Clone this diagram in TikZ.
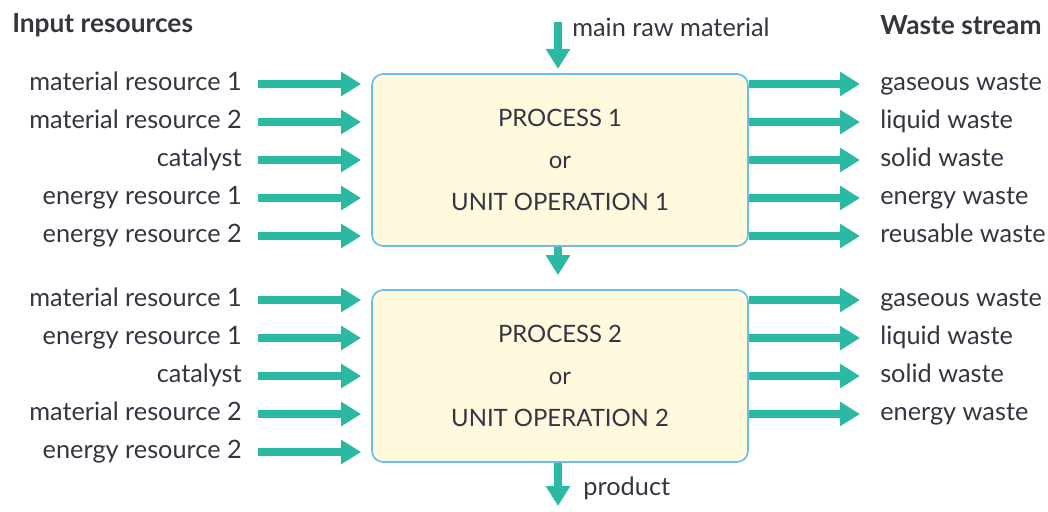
\documentclass[tikz,border=0pt]{standalone}
\usepackage{fontspec}
\setmainfont{Lato}
\usetikzlibrary{arrows.meta, positioning, calc}
\usepackage{xcolor}
\definecolor{flow}{RGB}{44,185,164}
\definecolor{boxfill}{RGB}{255,249,222}
\definecolor{boxline}{RGB}{105,190,235}
\definecolor{ink}{RGB}{52,52,66}

\begin{document}
\begin{tikzpicture}[
    font=\fontsize{18}{21}\selectfont, text=ink,
    unit/.style={rectangle, rounded corners=8pt, minimum width=9.4cm, minimum height=4.3cm, align=center, fill=boxfill, draw=boxline, line width=1.2pt, font=\fontsize{17}{30}\selectfont},
    inlbl/.style={anchor=east, inner xsep=0pt, text height=2.2ex, text depth=.4ex},
    outlbl/.style={anchor=west, inner xsep=0pt, text height=2.2ex, text depth=.4ex},
    head/.style={anchor=west, inner xsep=0pt, font=\fontsize{18.7}{21}\selectfont\bfseries},
    arr/.style={-{Triangle[length=0.5cm, width=0.58cm]}, line width=0.2cm, flow},
]
\useasboundingbox (0,0) rectangle (26.2,-12.775);

% the two process boxes
\node[unit] (p1) at (14.0,-4.0) {PROCESS 1\\or\\UNIT OPERATION 1};
\node[unit] (p2) at (14.0,-9.4) {PROCESS 2\\or\\UNIT OPERATION 2};

% column headings
\node[head] (inhead) at (0.3,-0.62) {Input resources};
\node[head] (outhead) at (22.0,-0.62) {Waste stream};

% raw material in, product out
\coordinate (rawtop) at (13.95,-0.55);
\node[anchor=west, inner xsep=0pt] (raw) at (14.3,-0.68) {main raw material};
\coordinate (prodend) at (13.95,-12.65);
\node[anchor=west, inner xsep=0pt] (prod) at (14.58,-12.22) {product};

% inputs to process 1
\node[inlbl] (a1) at (6.05,-2.1) {material resource 1};
\node[inlbl] (a2) at (6.05,-3.05) {material resource 2};
\node[inlbl] (a3) at (6.05,-4.0) {catalyst};
\node[inlbl] (a4) at (6.05,-4.95) {energy resource 1};
\node[inlbl] (a5) at (6.05,-5.9) {energy resource 2};

% inputs to process 2
\node[inlbl] (b1) at (6.05,-7.5) {material resource 1};
\node[inlbl] (b2) at (6.05,-8.45) {energy resource 1};
\node[inlbl] (b3) at (6.05,-9.4) {catalyst};
\node[inlbl] (b4) at (6.05,-10.35) {material resource 2};
\node[inlbl] (b5) at (6.05,-11.3) {energy resource 2};

% waste from process 1
\node[outlbl] (w1) at (22.0,-2.1) {gaseous waste};
\node[outlbl] (w2) at (22.0,-3.05) {liquid waste};
\node[outlbl] (w3) at (22.0,-4.0) {solid waste};
\node[outlbl] (w4) at (22.0,-4.95) {energy waste};
\node[outlbl] (w5) at (22.0,-5.9) {reusable waste};

% waste from process 2
\node[outlbl] (v1) at (22.0,-7.5) {gaseous waste};
\node[outlbl] (v2) at (22.0,-8.45) {liquid waste};
\node[outlbl] (v3) at (22.0,-9.4) {solid waste};
\node[outlbl] (v4) at (22.0,-10.35) {energy waste};

% Arrows
\draw[arr] (rawtop) -- ([yshift=3pt]rawtop |- p1.north);
\draw[arr] (rawtop |- p1.south) -- ([yshift=3.5mm]rawtop |- p2.north);
\draw[arr] (rawtop |- p2.south) -- (prodend);

\draw[arr] ([xshift=4mm]a1.east) -- ([xshift=-2.5mm]a1 -| p1.west);
\draw[arr] ([xshift=4mm]a2.east) -- ([xshift=-2.5mm]a2 -| p1.west);
\draw[arr] ([xshift=4mm]a3.east) -- ([xshift=-2.5mm]a3 -| p1.west);
\draw[arr] ([xshift=4mm]a4.east) -- ([xshift=-2.5mm]a4 -| p1.west);
\draw[arr] ([xshift=4mm]a5.east) -- ([xshift=-2.5mm]a5 -| p1.west);

\draw[arr] ([xshift=4mm]b1.east) -- ([xshift=-2.5mm]b1 -| p2.west);
\draw[arr] ([xshift=4mm]b2.east) -- ([xshift=-2.5mm]b2 -| p2.west);
\draw[arr] ([xshift=4mm]b3.east) -- ([xshift=-2.5mm]b3 -| p2.west);
\draw[arr] ([xshift=4mm]b4.east) -- ([xshift=-2.5mm]b4 -| p2.west);
\draw[arr] ([xshift=4mm]b5.east) -- ([xshift=-2.5mm]b5 -| p2.west);

\draw[arr] (w1 -| p1.east) -- ([xshift=-5mm]w1.west);
\draw[arr] (w2 -| p1.east) -- ([xshift=-5mm]w2.west);
\draw[arr] (w3 -| p1.east) -- ([xshift=-5mm]w3.west);
\draw[arr] (w4 -| p1.east) -- ([xshift=-5mm]w4.west);
\draw[arr] (w5 -| p1.east) -- ([xshift=-5mm]w5.west);

\draw[arr] (v1 -| p2.east) -- ([xshift=-5mm]v1.west);
\draw[arr] (v2 -| p2.east) -- ([xshift=-5mm]v2.west);
\draw[arr] (v3 -| p2.east) -- ([xshift=-5mm]v3.west);
\draw[arr] (v4 -| p2.east) -- ([xshift=-5mm]v4.west);

\end{tikzpicture}
\end{document}
